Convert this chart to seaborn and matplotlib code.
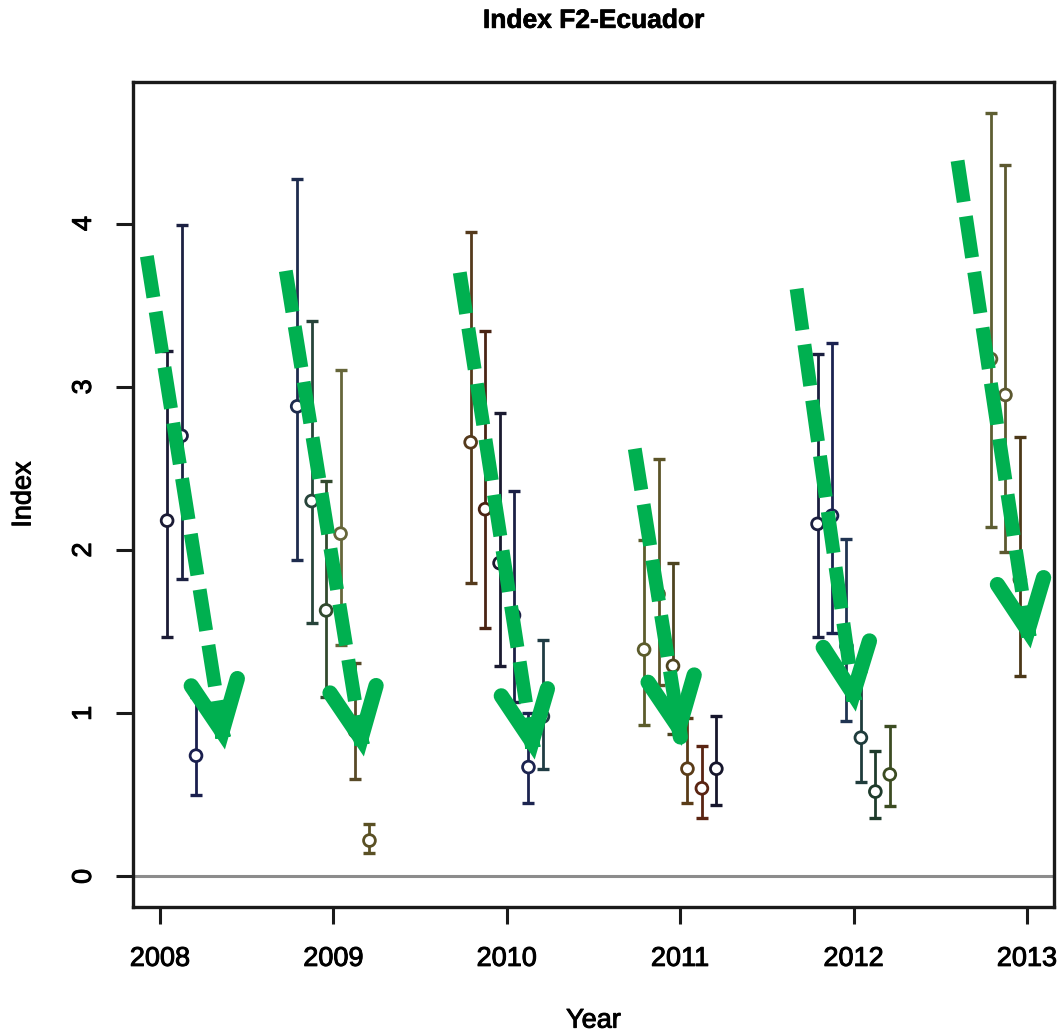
import numpy as np
import pandas as pd
import matplotlib
matplotlib.use("Agg")
import matplotlib.pyplot as plt
import matplotlib.patheffects as pe
import seaborn as sns

# ---------------- data ----------------
months = ["2008-01", "2008-02", "2008-03",
          "2008-10", "2008-11", "2008-12", "2009-01", "2009-02", "2009-03",
          "2009-10", "2009-11", "2009-12", "2010-01", "2010-02", "2010-03",
          "2010-10", "2010-11", "2010-12", "2011-01", "2011-02", "2011-03",
          "2011-10", "2011-11", "2011-12", "2012-01", "2012-02", "2012-03",
          "2012-10", "2012-11", "2012-12"]
mean_index = [2.18, 2.70, 0.74,
              2.88, 2.30, 1.63, 2.10, 0.89, 0.22,
              2.66, 2.25, 1.92, 1.60, 0.67, 0.98,
              1.39, 1.73, 1.29, 0.66, 0.54, 0.66,
              2.16, 2.21, 1.41, 0.85, 0.52, 0.625,
              3.17, 2.95, 1.82]
lower_ci = [1.47, 1.82, 0.50,
            1.94, 1.55, 1.10, 1.42, 0.60, 0.145,
            1.80, 1.52, 1.29, 1.07, 0.45, 0.66,
            0.93, 1.17, 0.87, 0.45, 0.36, 0.44,
            1.47, 1.49, 0.95, 0.58, 0.355, 0.43,
            2.14, 1.99, 1.23]
upper_ci = [3.22, 3.99, 1.10,
            4.27, 3.40, 2.42, 3.10, 1.31, 0.32,
            3.95, 3.34, 2.84, 2.36, 1.00, 1.45,
            2.06, 2.56, 1.92, 0.97, 0.80, 0.98,
            3.20, 3.27, 2.07, 1.26, 0.77, 0.92,
            4.68, 4.36, 2.69]
point_colors = ["#1b1b35", "#1c2142", "#1a1f4e",
                "#1e2c4e", "#27443a", "#324a2e", "#66663a", "#584a28", "#5a5024",
                "#553a1c", "#4a2414", "#1a1a30", "#1b2045", "#1c2450", "#203c44",
                "#5c5c2c", "#5c5428", "#4e4420", "#5a3c18", "#5a2412", "#16162c",
                "#1b1f40", "#1b2250", "#203452", "#1f3c3c", "#1f3c2c", "#3c4c22",
                "#5e5e32", "#5c5830", "#4c3818"]
year_ticks = [2008, 2009, 2010, 2011, 2012, 2013]
index_ticks = [0, 1, 2, 3, 4]

# green dashed annotation arrows (data coordinates)
arrow_start_x = [2007.925, 2008.726, 2009.729, 2010.738, 2011.671, 2012.599]
arrow_start_y = [3.80, 3.71, 3.70, 2.62, 3.60, 4.385]
arrow_end_x = [2008.375, 2009.176, 2010.161, 2011.009, 2012.012, 2013.020]
arrow_end_y = [0.778, 0.735, 0.716, 0.80, 1.01, 1.397]
arrow_color = "#00B050"

# ---------------- style ----------------
sns.set_theme(style="white")
plt.rcParams["font.family"] = ["Liberation Sans", "DejaVu Sans"]
plt.rcParams["text.color"] = "black"
plt.rcParams["axes.labelcolor"] = "black"

thick = [pe.withStroke(linewidth=0.7, foreground="black")]

df = pd.DataFrame({"month": months, "value": mean_index,
                   "lower": lower_ci, "upper": upper_ci, "colour": point_colors})
per = pd.to_datetime(df["month"], format="%Y-%m")
df["year"] = per.dt.year + (per.dt.month - 0.5) / 12.0

fig = plt.figure(figsize=(10.62, 10.33), dpi=100)
ax = fig.add_axes([133 / 1062, 1 - 907 / 1033, 921 / 1062, 825 / 1033])

# zero reference line
ax.axhline(0, color="#8c8c8c", lw=2.2, zorder=1)

# error bars
for row in df.itertuples():
    ax.errorbar(row.year, row.value,
                yerr=[[row.value - row.lower], [row.upper - row.value]],
                fmt="none", ecolor=row.colour, elinewidth=2.0,
                capsize=4.2, capthick=2.4, zorder=2)

# open circle markers
sns.scatterplot(data=df, x="year", y="value", hue="month",
                palette=dict(zip(months, point_colors)), s=72, marker="o",
                linewidth=2.0, legend=False, ax=ax, zorder=3)
coll = ax.collections[-1]
fc = coll.get_facecolors()
coll.set_edgecolors(fc)
coll.set_facecolors("white")

# annotation arrows
for x0, y0, x1, y1 in zip(arrow_start_x, arrow_start_y, arrow_end_x, arrow_end_y):
    t = 0.93
    ax.plot([x0, x0 + t * (x1 - x0)], [y0, y0 + t * (y1 - y0)],
            color=arrow_color, lw=10, dashes=(3, 1.05),
            dash_capstyle="butt", zorder=5)
    ax.annotate("", xy=(x1, y1),
                xytext=(x1 - 0.03 * (x1 - x0), y1 - 0.03 * (y1 - y0)),
                arrowprops=dict(arrowstyle="->,head_length=0.9,head_width=0.42",
                                lw=11, color=arrow_color, shrinkA=0, shrinkB=0,
                                mutation_scale=40, capstyle="round",
                                joinstyle="miter"),
                zorder=5)

# limits R-style (4% extension)
xmin, xmax = df["year"].min(), df["year"].max()
xr = xmax - xmin
ax.set_xlim(xmin - 0.04 * xr, xmax + 0.04 * xr)
ymax = df["upper"].max()
ax.set_ylim(-0.04 * ymax, 1.04 * ymax)

ax.set_xticks(year_ticks)
ax.set_xticklabels([str(y) for y in year_ticks])
ax.set_yticks(index_ticks)
ax.set_yticklabels([str(v) for v in index_ticks])

for s in ax.spines.values():
    s.set_visible(True)
    s.set_linewidth(2.4)
    s.set_color("#1a1a1a")

ax.tick_params(axis="both", direction="out", length=12, width=2.2,
               color="#1a1a1a", labelsize=19.5, labelcolor="black",
               bottom=True, left=True, top=False, right=False)
ax.tick_params(axis="x", pad=16)
ax.tick_params(axis="y", pad=14, labelrotation=90)
for lab in ax.get_yticklabels():
    lab.set_verticalalignment("center")
for lab in ax.get_xticklabels() + ax.get_yticklabels():
    lab.set_path_effects(thick)

ttl = ax.set_title("Index F2-Ecuador", fontsize=19, fontweight="bold",
                   pad=39, color="black")
ttl.set_path_effects([pe.withStroke(linewidth=0.5, foreground="black")])
xl = ax.set_xlabel("Year", fontsize=19.5)
ax.xaxis.set_label_coords(0.5, -0.122)
yl = ax.set_ylabel("Index", fontsize=19.5)
ax.yaxis.set_label_coords(-0.1048, 0.5)
xl.set_path_effects(thick)
yl.set_path_effects(thick)
ax.grid(False)

fig.savefig("out.png", dpi=100)
